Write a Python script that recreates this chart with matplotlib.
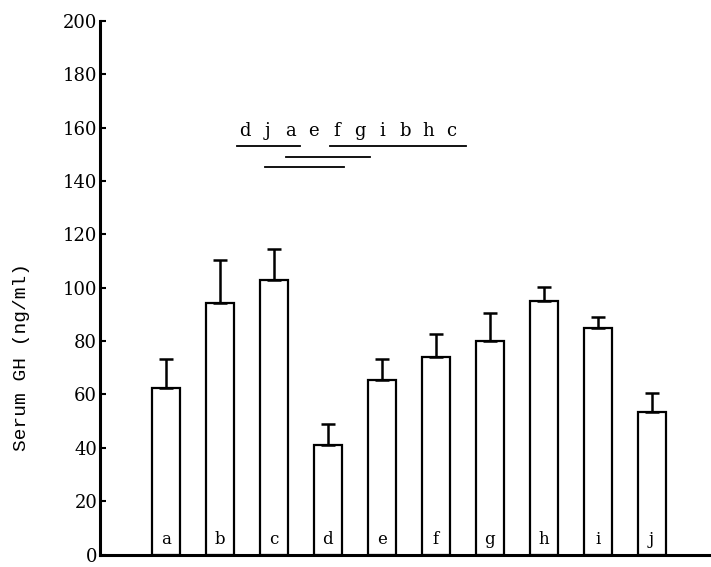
import numpy as np
import matplotlib

matplotlib.use("Agg")
import matplotlib.pyplot as plt  # noqa: E402

groups = ["a", "b", "c", "d", "e", "f", "g", "h", "i", "j"]
means = [62.6, 94.4, 103.0, 41.1, 65.6, 74.0, 80.0, 95.2, 84.8, 53.3]
err_top = [73.3, 110.4, 114.4, 48.9, 73.3, 82.6, 90.7, 100.4, 88.9, 60.4]
yticks = [0, 20, 40, 60, 80, 100, 120, 140, 160, 180, 200]

# ranking line of the multiple-comparison test
rank_order = ["d", "j", "a", "e", "f", "g", "i", "b", "h", "c"]
# (x start, x end, y) in data units
rank_lines = [(1.31, 2.48, 153.3), (3.04, 5.57, 153.3),
              (2.22, 3.78, 148.9), (1.83, 3.31, 145.2)]

means = np.array(means)
sem = np.array(err_top) - means
x = np.arange(len(groups))

fig = plt.figure(figsize=(7.11, 5.67), dpi=100)
ax = fig.add_axes([0.1406, 0.022, 0.8594, 0.941])

ax.bar(x, means, width=0.52, color="white", edgecolor="black", linewidth=1.6)
ax.errorbar(x, means, yerr=[np.zeros_like(sem), sem], fmt="none",
            ecolor="black", elinewidth=1.8, capsize=5, capthick=1.8)

for xi, g in zip(x, groups):
    ax.text(xi, 5.5, g, ha="center", va="center", family="DejaVu Serif",
            fontsize=12)

for i, g in enumerate(rank_order):
    ax.text(1.46 + i * 0.426, 158.9, g, ha="center", va="center",
            family="DejaVu Serif", fontsize=13)
for x0, x1, yy in rank_lines:
    ax.plot([x0, x1], [yy, yy], color="black", lw=1.3)

ax.set_xlim(-1.22, 10.1)
ax.set_ylim(0, 200)
ax.set_yticks(yticks)
ax.set_xticks([])
ax.tick_params(axis="y", direction="in", length=4, width=1.5,
               labelsize=13, pad=2)
for lab in ax.get_yticklabels():
    lab.set_family("DejaVu Serif")
ax.spines["top"].set_visible(False)
ax.spines["right"].set_visible(False)
ax.spines["left"].set_linewidth(2.2)
ax.spines["bottom"].set_linewidth(2.2)
ax.set_ylabel("Serum GH (ng/ml)", family="Liberation Mono", fontsize=14)
ax.yaxis.set_label_coords(-0.115, 0.37)

fig.savefig("out.png")
plt.close(fig)
